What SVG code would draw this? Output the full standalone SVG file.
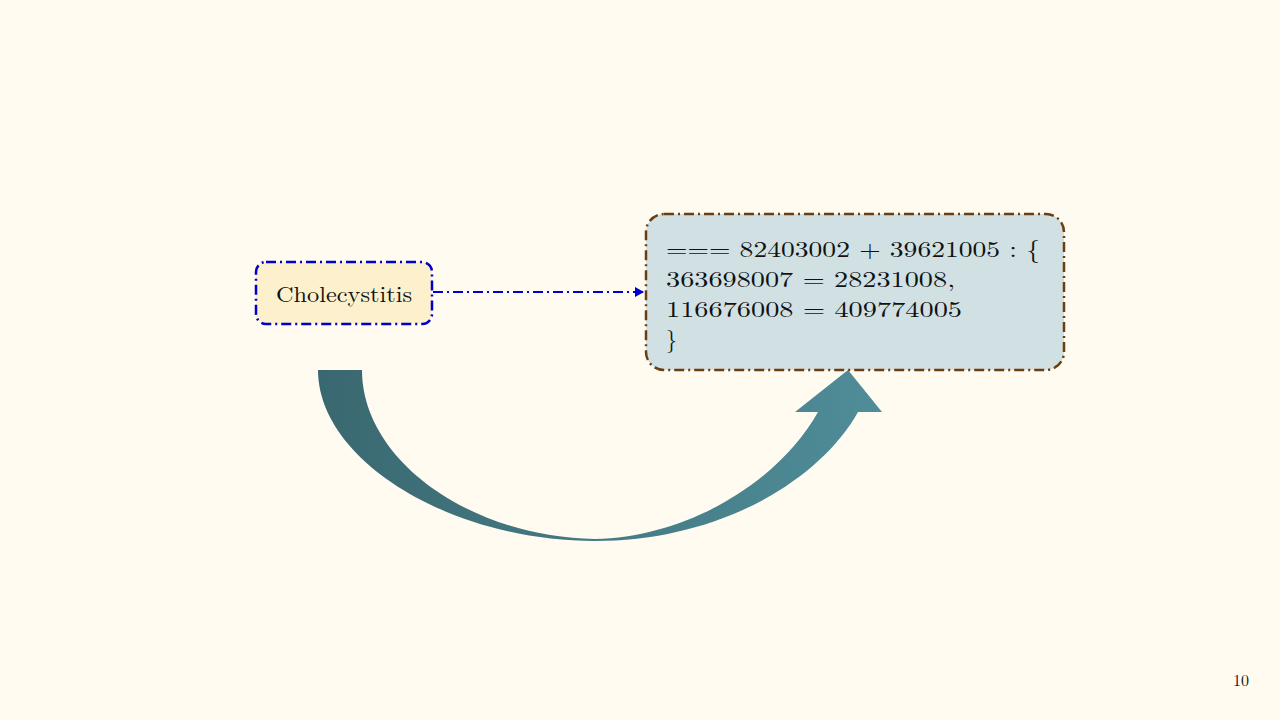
<svg xmlns="http://www.w3.org/2000/svg" width="1280" height="720" viewBox="0 0 1280 720">
<defs>
<linearGradient id="g" x1="0" y1="0" x2="1" y2="0"><stop offset="0" stop-color="#3a6870"/><stop offset="1" stop-color="#4f8d99"/></linearGradient>
<marker id="ah" markerWidth="10" markerHeight="10" refX="8" refY="5" orient="auto" markerUnits="userSpaceOnUse"><path d="M0,0 L9,5 L0,10 Z" fill="#0000cc"/></marker>
<style>.t{font-family:"Latin Modern Roman","Liberation Serif",serif;fill:#111}</style>
</defs>
<rect width="1280" height="720" fill="#fffbf0"/>
<g id="connectors">
<path d="M318,370 C318,460 450,541 595,541 C720,541 820,480 858,412 L882,412 L848,370 L795,412 L818,412 C780,480 690,537 595,539 C470,537 362,460 362,370 Z" fill="url(#g)"/>
<line x1="433" y1="292" x2="643" y2="292" stroke="#0000cc" stroke-width="2" stroke-dasharray="10,4,2,4" marker-end="url(#ah)"/>
</g>
<g id="n1">
<rect x="256" y="262" width="176" height="62" rx="10" fill="#fdf0cc" stroke="#0000cc" stroke-width="2.5" stroke-dasharray="10,4,2,4"/>
<text class="t" x="276" y="302" font-size="22" textLength="136" lengthAdjust="spacingAndGlyphs">Cholecystitis</text>
</g>
<g id="n2">
<rect x="646" y="214" width="418" height="156" rx="18" fill="#d0e0e3" stroke="#6b3e10" stroke-width="2.5" stroke-dasharray="10,4,2,4"/>
<text class="t" font-size="22"><tspan x="666" y="257" textLength="374" lengthAdjust="spacingAndGlyphs">=== 82403002 + 39621005 : {</tspan><tspan x="666" y="287" textLength="289" lengthAdjust="spacingAndGlyphs">363698007 = 28231008,</tspan><tspan x="666" y="317" textLength="296" lengthAdjust="spacingAndGlyphs">116676008 = 409774005</tspan><tspan x="666" y="347">}</tspan></text>
</g>
<text class="t" x="1249" y="686" font-size="16" text-anchor="end">10</text>
</svg>
